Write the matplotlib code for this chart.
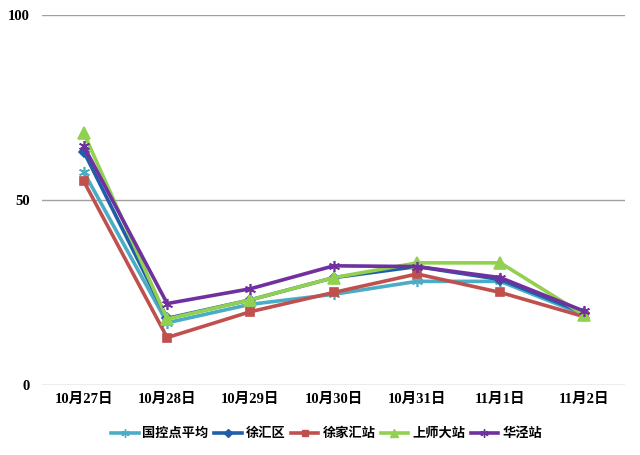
import matplotlib
matplotlib.use("Agg")
import matplotlib.pyplot as plt
from matplotlib.lines import Line2D
import numpy as np

categories = ["10月27日", "10月28日", "10月29日", "10月30日", "10月31日", "11月1日", "11月2日"]
guokong = [57.5, 16.8, 21.8, 24.5, 28, 28, 19]
xuhui = [63, 18, 23, 29, 32, 28.5, 19.5]
xujiahui = [55, 12.8, 19.8, 25, 30, 25, 18.5]
shangshi = [68, 17.8, 23, 29, 33, 33, 19]
huajing = [64.5, 22, 26, 32.2, 32, 29, 20]
series_names = ["国控点平均", "徐汇区", "徐家汇站", "上师大站", "华泾站"]
yticks = [0, 50, 100]

series = [guokong, xuhui, xujiahui, shangshi, huajing]
colors = ["#4BACC6", "#1F5FA8", "#C0504D", "#92D050", "#7030A0"]
markers = [(6, 2, 0), "D", "s", "^", (6, 2, 0)]
msizes = [8, 5, 6, 8, 8]

fig = plt.figure(figsize=(6.4, 4.55), dpi=100)
ax = fig.add_axes([0.066, 0.154, 0.911, 0.813])
x = np.arange(len(categories))
for vals, c, m, ms, name in zip(series, colors, markers, msizes, series_names):
    ax.plot(x, vals, color=c, lw=2.6, marker=m, ms=ms, mfc=c, mec=c, mew=1.2,
            label=name, solid_joinstyle="round")

ax.set_xlim(-0.5, len(categories) - 0.5)
ax.set_ylim(0, 100)
ax.set_yticks(yticks)
ax.set_yticklabels([str(v) for v in yticks], fontfamily=["Liberation Serif"],
                   fontweight="bold", fontsize=10.5)
ax.set_xticks(x)
ax.set_xticklabels(categories, fontfamily=["Liberation Serif", "Noto Sans CJK SC"],
                   fontweight="bold", fontsize=10.5)
ax.tick_params(axis="both", length=0)
ax.tick_params(axis="y", pad=9)
ax.tick_params(axis="x", pad=6)
for s in ax.spines.values():
    s.set_visible(False)
ax.yaxis.grid(True, color="#A0A0A0", lw=1.0)
ax.set_axisbelow(True)

handles = [Line2D([0], [0], color=c, lw=2.6, marker=m, ms=ms * 0.75, mfc=c, mec=c)
           for c, m, ms in zip(colors, markers, msizes)]
fig.legend(handles, series_names, loc="center", bbox_to_anchor=(0.51, 0.048),
           ncol=5, frameon=False, handlelength=2.1, handletextpad=0.3, columnspacing=0.4,
           prop={"family": ["Noto Sans CJK SC"], "weight": "bold", "size": 9.5})

fig.savefig("out.png", dpi=100, facecolor="white")
